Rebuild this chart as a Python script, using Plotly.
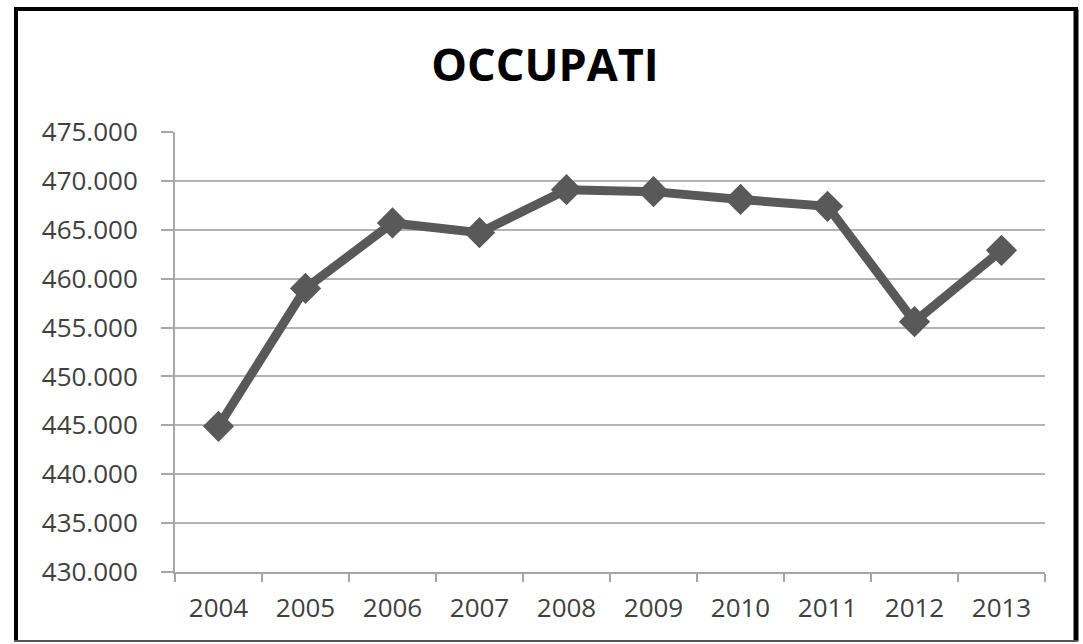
import plotly.graph_objects as go

years = ["2004", "2005", "2006", "2007", "2008", "2009", "2010", "2011", "2012", "2013"]
occupati = [444900, 459000, 465700, 464700, 469100, 468900, 468100, 467400, 455600, 462900]
y_ticks = [430000, 435000, 440000, 445000, 450000, 455000, 460000, 465000, 470000, 475000]
title_text = "OCCUPATI"

W, H = 1083, 644
L, R, T, B = 175, 38, 132, 72
pw, ph = W - L - R, H - T - B

def px(x):
    return (x - L) / pw

def py(y):
    return (H - B - y) / ph

fig = go.Figure()
fig.add_trace(go.Scatter(
    x=years, y=occupati, mode="lines+markers",
    line=dict(color="#595959", width=9),
    marker=dict(symbol="diamond", size=24, color="#595959"),
    showlegend=False, cliponaxis=False,
))

border = []
border.append(dict(type="line", xref="paper", yref="paper", x0=px(16), x1=px(16), y0=py(9), y1=py(641),
                   line=dict(color="black", width=4)))
border.append(dict(type="line", xref="paper", yref="paper", x0=px(14), x1=px(1078), y0=py(9), y1=py(9),
                   line=dict(color="black", width=4)))
border.append(dict(type="line", xref="paper", yref="paper", x0=px(1076), x1=px(1076), y0=py(9), y1=py(641),
                   line=dict(color="black", width=5)))
border.append(dict(type="line", xref="paper", yref="paper", x0=px(14), x1=px(1078), y0=py(641), y1=py(641),
                   line=dict(color="#555555", width=2)))

fig.update_layout(
    width=W, height=H,
    margin=dict(l=L, r=R, t=T, b=B, autoexpand=False),
    paper_bgcolor="white", plot_bgcolor="white",
    separators=",.",
    title=dict(text="<b>" + title_text + "</b>", xref="container", yref="container",
               x=545 / W, y=1 - 65 / H, xanchor="center", yanchor="middle",
               font=dict(family="Open Sans, sans-serif", size=45, color="black")),
    font=dict(family="Open Sans, sans-serif", size=26, color="#404040"),
    shapes=border,
    xaxis=dict(
        type="category", range=[-0.5, 9.5],
        showline=True, linecolor="#a6a6a6", linewidth=2,
        ticks="outside", tickson="boundaries", ticklen=8, tickcolor="#a6a6a6", tickwidth=2,
        showgrid=False, ticklabelstandoff=12,
        tickfont=dict(size=26, color="#404040"),
    ),
    yaxis=dict(
        range=[430000, 475000], tickvals=y_ticks, tickformat=",d",
        showline=True, linecolor="#a6a6a6", linewidth=2,
        ticks="outside", ticklen=12, tickcolor="#a6a6a6", tickwidth=2,
        showgrid=True, gridcolor="#b4b4b4", gridwidth=2,
        zeroline=False, ticklabelstandoff=18,
        tickfont=dict(size=26, color="#404040"),
    ),
)

fig.write_html("out.html", config={"displayModeBar": False},
               post_script="document.body.style.margin='0';document.body.style.padding='0';")
